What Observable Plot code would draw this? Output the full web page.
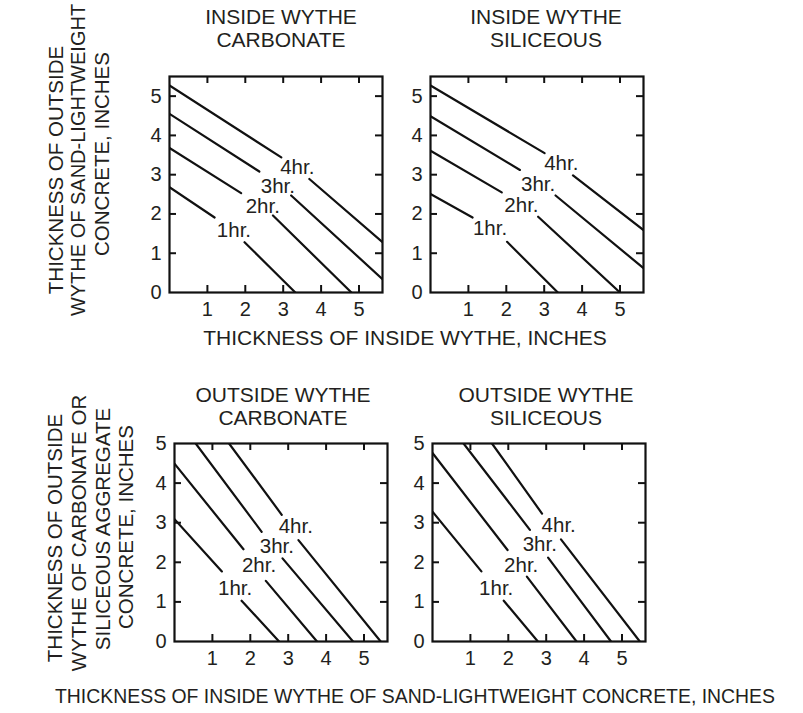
<!DOCTYPE html>
<html><head><meta charset="utf-8">
<script src="https://cdn.jsdelivr.net/npm/d3@7"></script>
<script src="https://cdn.jsdelivr.net/npm/@observablehq/plot@0.6"></script>
<style>
body{margin:0;background:#fff;}
#root{position:relative;width:803px;height:713px;overflow:hidden;background:#fff;}
#root svg{position:absolute;}
</style></head><body><div id="root"></div>
<script>
// ---------- data ----------
const hourLabels = ["1hr.", "2hr.", "3hr.", "4hr."];
const xTicks = [1, 2, 3, 4, 5];
const yTicks = [0, 1, 2, 3, 4, 5];
const titleTopLeft = ["INSIDE WYTHE", "CARBONATE"];
const titleTopRight = ["INSIDE WYTHE", "SILICEOUS"];
const titleBottomLeft = ["OUTSIDE WYTHE", "CARBONATE"];
const titleBottomRight = ["OUTSIDE WYTHE", "SILICEOUS"];
const xLabelTop = "THICKNESS OF INSIDE WYTHE, INCHES";
const xLabelBottom = "THICKNESS OF INSIDE WYTHE OF SAND-LIGHTWEIGHT CONCRETE, INCHES";
const yLabelTop = ["THICKNESS OF OUTSIDE", "WYTHE OF SAND-LIGHTWEIGHT", "CONCRETE, INCHES"];
const yLabelBottom = ["THICKNESS OF OUTSIDE", "WYTHE OF CARBONATE OR", "SILICEOUS AGGREGATE", "CONCRETE, INCHES"];

// Each curve: [x, y] points; the null entry is the gap where the label sits
const insideCarbonate1 = [[0, 2.68], [1.19, 1.91], null, [1.98, 1.28], [3.32, 0]];
const insideCarbonate2 = [[0, 3.68], [1.89, 2.53], null, [2.73, 1.96], [4.80, 0]];
const insideCarbonate3 = [[0, 4.55], [2.37, 3.08], null, [3.21, 2.47], [5.62, 0.34]];
const insideCarbonate4 = [[0, 5.27], [2.95, 3.44], null, [3.69, 2.89], [5.62, 1.28]];
const insideCarbonateLabels = [[1.70, 1.59], [2.46, 2.19], [2.86, 2.70], [3.37, 3.19]];

const insideSiliceous1 = [[0, 2.51], [1.11, 1.91], null, [2.02, 1.29], [3.36, 0]];
const insideSiliceous2 = [[0, 3.61], [1.88, 2.55], null, [2.84, 1.93], [5.00, 0]];
const insideSiliceous3 = [[0, 4.49], [2.36, 3.12], null, [3.30, 2.47], [5.62, 0.62]];
const insideSiliceous4 = [[0, 5.27], [3.01, 3.55], null, [3.76, 2.98], [5.62, 1.59]];
const insideSiliceousLabels = [[1.57, 1.62], [2.40, 2.21], [2.84, 2.76], [3.45, 3.28]];

const outsideCarbonate1 = [[0, 3.09], [1.25, 1.77], null, [1.77, 1.03], [2.76, 0]];
const outsideCarbonate2 = [[0, 4.49], [1.82, 2.33], null, [2.41, 1.53], [3.76, 0]];
const outsideCarbonate3 = [[0.56, 5], [2.30, 2.77], null, [2.85, 2.10], [4.71, 0]];
const outsideCarbonate4 = [[1.44, 5], [2.83, 3.20], null, [3.27, 2.56], [5.44, 0]];
const outsideCarbonateLabels = [[1.60, 1.35], [2.23, 1.91], [2.70, 2.41], [3.20, 2.90]];

const outsideSiliceous1 = [[0, 3.28], [1.29, 1.77], null, [1.88, 1.03], [2.78, 0]];
const outsideSiliceous2 = [[0, 4.76], [1.98, 2.31], null, [2.49, 1.64], [3.80, 0]];
const outsideSiliceous3 = [[0.82, 5], [2.57, 2.82], null, [3.05, 2.12], [4.71, 0]];
const outsideSiliceous4 = [[1.57, 5], [2.89, 3.23], null, [3.39, 2.58], [5.47, 0]];
const outsideSiliceousLabels = [[1.68, 1.35], [2.34, 1.91], [2.83, 2.44], [3.33, 2.92]];

// ---------- helpers ----------
const FONT = '"Liberation Sans", Arial, Helvetica, sans-serif';
const INK = "#231f20";

function curveRows(curves) {
  const rows = [];
  curves.forEach((pts, i) => {
    pts.forEach(p => rows.push({hour: hourLabels[i], x: p ? p[0] : NaN, y: p ? p[1] : NaN}));
  });
  return rows;
}
function labelRows(labels) {
  return labels.map((p, i) => ({hour: hourLabels[i], x: p[0], y: p[1]}));
}

const mL = 40, mR = 10, mT = 10, mB = 40;

function panel(curves, labels, yMax, frame) {
  const fw = frame.w, fh = frame.h;
  const yt = yTicks.filter(v => v <= yMax);
  const inner = yt.filter(v => v > 0 && v < yMax);
  const chart = Plot.plot({
    width: fw + mL + mR,
    height: fh + mT + mB,
    marginLeft: mL, marginRight: mR, marginTop: mT, marginBottom: mB,
    x: {domain: [0, 5.62]},
    y: {domain: [0, yMax]},
    style: {fontFamily: FONT, fontSize: "20px", color: INK, background: "transparent", overflow: "visible"},
    marks: [
      Plot.line(curveRows(curves), {x: "x", y: "y", z: "hour", stroke: "#111", strokeWidth: 2.2, clip: true}),
      Plot.text(labelRows(labels), {x: "x", y: "y", text: "hour", fontSize: 20.5, fill: INK}),
      Plot.tickX(xTicks, {x: d => d, insetTop: fh - 7, stroke: "#111", strokeWidth: 2}),
      Plot.tickX(xTicks, {x: d => d, insetBottom: fh - 7, stroke: "#111", strokeWidth: 2}),
      Plot.tickY(inner, {y: d => d, insetRight: fw - 7, stroke: "#111", strokeWidth: 2}),
      Plot.tickY(inner, {y: d => d, insetLeft: fw - 7, stroke: "#111", strokeWidth: 2}),
      Plot.frame({stroke: "#111", strokeWidth: 2.2}),
      Plot.axisX(xTicks, {tickSize: 0, tickPadding: 9, fontSize: 20, label: null, fill: INK}),
      Plot.axisY(yt, {tickSize: 0, tickPadding: 8, fontSize: 20, label: null, fill: INK})
    ]
  });
  chart.style.left = (frame.x - mL) + "px";
  chart.style.top = (frame.y - mT) + "px";
  return chart;
}

const root = document.getElementById("root");
root.appendChild(panel([insideCarbonate1, insideCarbonate2, insideCarbonate3, insideCarbonate4], insideCarbonateLabels, 5.5, {x: 169, y: 76, w: 213, h: 216}));
root.appendChild(panel([insideSiliceous1, insideSiliceous2, insideSiliceous3, insideSiliceous4], insideSiliceousLabels, 5.5, {x: 430, y: 76, w: 213, h: 216}));
root.appendChild(panel([outsideCarbonate1, outsideCarbonate2, outsideCarbonate3, outsideCarbonate4], outsideCarbonateLabels, 5, {x: 174, y: 443, w: 213, h: 198}));
root.appendChild(panel([outsideSiliceous1, outsideSiliceous2, outsideSiliceous3, outsideSiliceous4], outsideSiliceousLabels, 5, {x: 432, y: 443, w: 213, h: 198}));

// ---------- text overlay ----------
const svg = d3.select(root).append("svg")
  .attr("width", 803).attr("height", 713)
  .style("left", "0px").style("top", "0px")
  .attr("font-family", FONT).attr("fill", INK);

function title(lines, cx, y0, dy) {
  lines.forEach((t, i) => svg.append("text").attr("x", cx).attr("y", y0 + i * dy)
    .attr("text-anchor", "middle").attr("font-size", 21).text(t));
}
title(titleTopLeft, 281, 24, 23);
title(titleTopRight, 546, 24, 23);
title(titleBottomLeft, 283, 402, 23);
title(titleBottomRight, 546, 402, 23);

svg.append("text").attr("x", 405).attr("y", 345).attr("text-anchor", "middle")
  .attr("font-size", 21).text(xLabelTop);
svg.append("text").attr("x", 415).attr("y", 703).attr("text-anchor", "middle")
  .attr("font-size", 20).attr("textLength", 720).attr("lengthAdjust", "spacingAndGlyphs")
  .text(xLabelBottom);

function yLabel(lines, xs, cys, size) {
  lines.forEach((t, i) => svg.append("text")
    .attr("transform", `translate(${xs[i]},${cys[i]}) rotate(-90)`)
    .attr("text-anchor", "middle").attr("dominant-baseline", "central")
    .attr("font-size", size[i]).text(t));
}
yLabel(yLabelTop, [55, 78, 101], [170, 160, 154], [20.5, 20, 20.5]);
yLabel(yLabelBottom, [54, 78, 102, 125], [538, 533, 529, 527], [20.5, 20.5, 20.5, 20.5]);
</script></body></html>
